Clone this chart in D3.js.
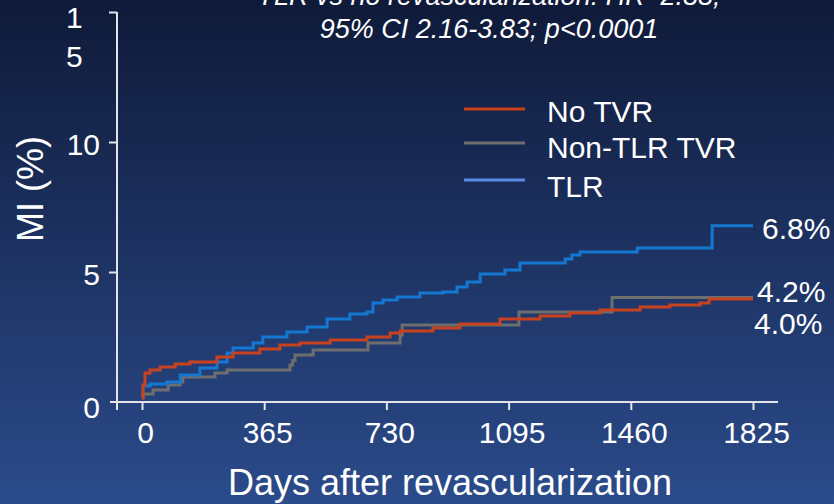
<!DOCTYPE html>
<html>
<head>
<meta charset="utf-8">
<script src="https://cdn.jsdelivr.net/npm/d3@7"></script>
<style>
  html, body { margin: 0; padding: 0; background: #0f1a3a; }
  svg { display: block; font-family: "Liberation Sans", Arial, sans-serif; }
</style>
</head>
<body>
<div id="chart"></div>
<script>
// Cumulative MI curves: [days, percent]
const noTvr = [
  [0, 0.15], [3, 0.65], [9, 1.12], [24, 1.23], [54, 1.35], [99, 1.46], [143, 1.54],
  [224, 1.73], [272, 1.88], [352, 2.04], [412, 2.19], [472, 2.27], [562, 2.38],
  [672, 2.5], [741, 2.65], [771, 2.73], [869, 2.85], [950, 3.0], [1069, 3.19],
  [1189, 3.31], [1278, 3.42], [1368, 3.54], [1488, 3.65], [1577, 3.73], [1667, 3.81],
  [1694, 3.96], [1825, 3.96]
];
const nonTlrTvr = [
  [0, 0.15], [3, 0.31], [33, 0.46], [78, 0.65], [114, 0.77], [122, 0.96], [218, 1.12],
  [254, 1.23], [442, 1.42], [450, 1.6], [457, 1.81], [511, 2.0], [675, 2.27],
  [771, 2.58], [777, 2.96], [1126, 3.46], [1404, 4.02], [1825, 4.02]
];
const tlr = [
  [0, 0.46], [3, 0.62], [24, 0.69], [75, 0.77], [114, 1.04], [173, 1.31], [224, 1.54],
  [254, 1.88], [272, 2.08], [332, 2.27], [361, 2.5], [433, 2.69], [493, 2.88],
  [553, 3.19], [621, 3.38], [672, 3.46], [690, 3.81], [720, 3.92], [762, 4.04],
  [830, 4.19], [899, 4.23], [941, 4.42], [971, 4.62], [1010, 4.92], [1084, 5.08],
  [1129, 5.35], [1264, 5.5], [1284, 5.65], [1308, 5.77], [1479, 5.92], [1703, 6.78],
  [1825, 6.78]
];

const xTicks = [0, 365, 730, 1095, 1460, 1825];
const yTicks = [0, 5, 10, 15];
const seriesNames = ['No TVR', 'Non-TLR TVR', 'TLR'];
const lineColors = ['#c9421f', '#6e6e6e', '#1478d2'];
const legendColors = ['#c9421f', '#6e6e6e', '#5a8ae6'];
const endLabels = ['4.0%', '4.2%', '6.8%'];
const titleLines = ['TLR vs no revascularization: HR=2.88;', '95% CI 2.16-3.83; p<0.0001'];

const width = 834, height = 504;

const svg = d3.select('#chart').append('svg')
  .attr('width', width)
  .attr('height', height);

// background gradient, dark navy to lighter blue
const grad = svg.append('defs').append('linearGradient')
  .attr('id', 'bg').attr('x1', 0).attr('y1', 0).attr('x2', 0).attr('y2', 1);
grad.append('stop').attr('offset', '0%').attr('stop-color', '#0f1a39');
grad.append('stop').attr('offset', '100%').attr('stop-color', '#2b4b8b');
svg.append('rect').attr('width', width).attr('height', height).attr('fill', 'url(#bg)');

const x = d3.scaleLinear().domain([0, 1825]).range([142, 753]);
const y = d3.scaleLinear().domain([0, 15]).range([402, 12]);

const axisColor = '#e2e4ea';

// x axis
const xAxis = svg.append('g')
  .attr('transform', `translate(0,${y(0)})`)
  .call(d3.axisBottom(x).tickValues(xTicks).tickSize(8).tickSizeOuter(0).tickPadding(12)
    .tickFormat(d3.format('d')));
xAxis.select('.domain').remove();
xAxis.selectAll('line').attr('stroke', axisColor).attr('stroke-width', 2);
xAxis.selectAll('text')
  .attr('fill', '#fff').attr('font-size', 30)
  .attr('font-family', '"Liberation Sans", Arial, sans-serif')
  .attr('dx', 3);
svg.append('line')
  .attr('x1', x(0) - 32).attr('x2', x(1825) + 25)
  .attr('y1', y(0)).attr('y2', y(0))
  .attr('stroke', axisColor).attr('stroke-width', 2);

// y axis
const yAxis = svg.append('g')
  .attr('transform', `translate(${x(0) - 25},0)`)
  .call(d3.axisLeft(y).tickValues(yTicks.slice(1)).tickSize(8).tickSizeOuter(0).tickPadding(9)
    .tickFormat(d => d === 15 ? '' : d));
yAxis.select('.domain').remove();
yAxis.selectAll('line').attr('stroke', axisColor).attr('stroke-width', 2);
yAxis.selectAll('text')
  .attr('fill', '#fff').attr('font-size', 30)
  .attr('font-family', '"Liberation Sans", Arial, sans-serif')
  .attr('dy', '0.42em');
svg.append('line')
  .attr('x1', x(0) - 25).attr('x2', x(0) - 25)
  .attr('y1', y(15)).attr('y2', y(0) + 8)
  .attr('stroke', axisColor).attr('stroke-width', 2);

// "0" label and the wrapped "15" label
svg.append('text')
  .attr('x', x(0) - 42).attr('y', y(0) + 16)
  .attr('text-anchor', 'end').attr('fill', '#fff').attr('font-size', 30)
  .text(yTicks[0]);
const t15 = svg.append('text')
  .attr('fill', '#fff').attr('font-size', 30);
String(yTicks[3]).split('').forEach((c, i) => {
  t15.append('tspan').attr('x', 66).attr('y', y(15) + 16 + i * 39).text(c);
});

// axis titles
svg.append('text')
  .attr('x', 450).attr('y', 495)
  .attr('text-anchor', 'middle').attr('fill', '#fff').attr('font-size', 36)
  .text('Days after revascularization');
svg.append('text')
  .attr('transform', 'translate(43,189) rotate(-90)')
  .attr('text-anchor', 'middle').attr('fill', '#fff').attr('font-size', 36)
  .text('MI  (%)');

// title (top line is cut by the edge)
titleLines.forEach((t, i) => {
  svg.append('text')
    .attr('x', 489).attr('y', 5 + i * 33)
    .attr('text-anchor', 'middle').attr('fill', '#fff')
    .attr('font-size', 27).attr('font-style', 'italic')
    .text(t);
});

// curves
const line = d3.line()
  .x(d => x(d[0]))
  .y(d => y(d[1]))
  .curve(d3.curveStepAfter);

const series = [noTvr, nonTlrTvr, tlr];
const drawOrder = [1, 2, 0];
drawOrder.forEach(i => {
  svg.append('path')
    .datum(series[i])
    .attr('d', line)
    .attr('fill', 'none')
    .attr('stroke', lineColors[i])
    .attr('stroke-width', 3)
    .attr('stroke-linejoin', 'miter');
});

// end labels
const endY = [334, 302, 239];
endLabels.forEach((t, i) => {
  svg.append('text')
    .attr('x', i === 2 ? 762 : (i === 1 ? 757 : 754)).attr('y', endY[i])
    .attr('fill', '#fff').attr('font-size', 30)
    .text(t);
});

// legend
const legendY = [109, 143, 180];
seriesNames.forEach((name, i) => {
  svg.append('line')
    .attr('x1', 464).attr('x2', 525)
    .attr('y1', legendY[i]).attr('y2', legendY[i])
    .attr('stroke', legendColors[i]).attr('stroke-width', 3);
  svg.append('text')
    .attr('x', 547).attr('y', legendY[i] + 13 + i * 2)
    .attr('fill', '#fff').attr('font-size', 30)
    .text(name);
});
</script>
</body>
</html>
